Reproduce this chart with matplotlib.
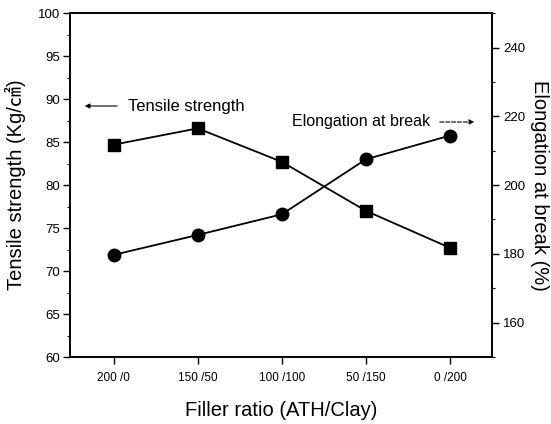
import numpy as np
import matplotlib
matplotlib.use("Agg")
import matplotlib.pyplot as plt
from matplotlib.ticker import MultipleLocator

plt.rcParams['font.family'] = ['Liberation Sans', 'Noto Sans CJK JP', 'DejaVu Sans']

ratios = ['200 /0', '150 /50', '100 /100', '50 /150', '0 /200']
tensile = [84.7, 86.6, 82.7, 77.0, 72.7]
elongation = [179.7, 185.5, 191.5, 207.5, 214.4]

fig = plt.figure(figsize=(5.51, 4.24), dpi=100)
ax = fig.add_axes([0.127, 0.158, 0.766, 0.811])
ax2 = ax.twinx()

x = np.arange(len(ratios))
ax.plot(x, tensile, color='black', lw=1.3, marker='s', ms=8.5, zorder=3)
ax2.plot(x, elongation, color='black', lw=1.3, marker='o', ms=9, zorder=3)

ax.set_xlim(-0.52, 4.5)
ax.set_ylim(60, 100)
ax2.set_ylim(150, 250)

ax.set_xticks(x)
ax.set_xticklabels(ratios, fontsize=8.5)
ax.yaxis.set_major_locator(MultipleLocator(5))
ax.yaxis.set_minor_locator(MultipleLocator(2.5))
ax2.set_yticks([160, 180, 200, 220, 240])
ax2.yaxis.set_minor_locator(MultipleLocator(10))

ax.tick_params(axis='y', which='major', direction='out', length=5, width=1, labelsize=9.5, pad=2)
ax.tick_params(axis='y', which='minor', direction='out', length=2.5, width=0.8)
ax.tick_params(axis='x', direction='out', length=5, width=1, labelsize=8.5, pad=6)
ax2.tick_params(axis='y', which='major', direction='out', length=5, width=1, labelsize=9.5, pad=3)
ax2.tick_params(axis='y', which='minor', direction='out', length=2.5, width=0.8)

for a in (ax, ax2):
    for s in a.spines.values():
        s.set_linewidth(1.2)

ax.set_xlabel('Filler ratio (ATH/Clay)', fontsize=14.5, labelpad=12)
ax.set_ylabel('Tensile strength (Kg/㎠)', fontsize=14.5)
ax.yaxis.set_label_coords(-0.105, 0.5)
ax2.set_ylabel('Elongation at break (%)', fontsize=14.5, rotation=270, labelpad=17)

ax.annotate('', xy=(82, 318), xycoords='figure pixels',
            xytext=(120, 318), textcoords='figure pixels',
            arrowprops=dict(arrowstyle='-|>', color='black', lw=0.8, mutation_scale=7))
fig.text(128 / 551, 1 - 106 / 424, 'Tensile strength', fontsize=12, va='center', ha='left')

fig.text(292 / 551, 1 - 121 / 424, 'Elongation at break', fontsize=11.5, va='center', ha='left')
ax.annotate('', xy=(477, 302), xycoords='figure pixels',
            xytext=(437, 302), textcoords='figure pixels',
            arrowprops=dict(arrowstyle='-|>', color='black', lw=0.8, ls='--', mutation_scale=7))

fig.savefig('out.png', dpi=100)
